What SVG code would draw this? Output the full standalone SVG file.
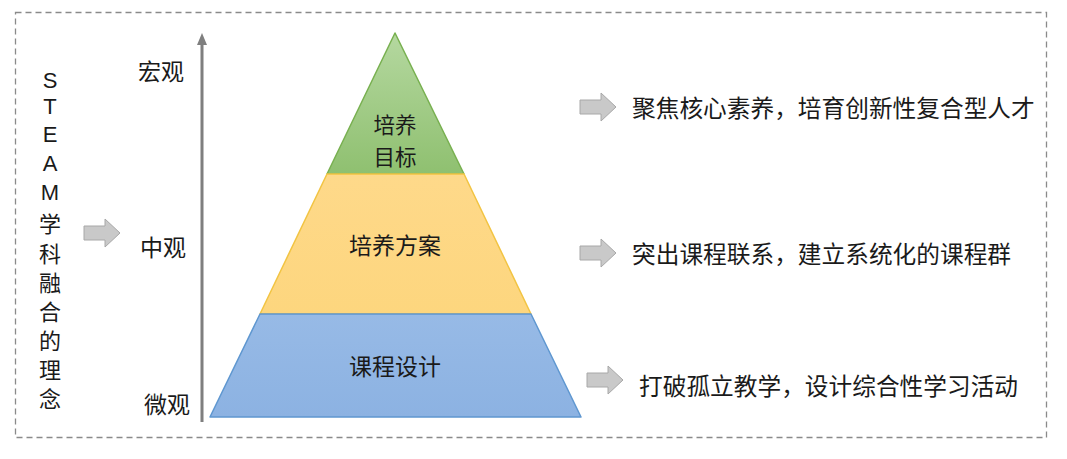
<svg xmlns="http://www.w3.org/2000/svg" width="1067" height="459" viewBox="0 0 1067 459">
<style>
.t{font-family:"Noto Sans CJK SC","Noto Sans",sans-serif;fill:#1a1a1a;font-size:23px;text-anchor:middle;dominant-baseline:central}
.p{font-family:"Noto Sans CJK SC","Noto Sans",sans-serif;fill:#1a1a1a;font-size:21.5px;text-anchor:middle;dominant-baseline:central}
.s{font-family:"Noto Sans CJK SC","Noto Sans",sans-serif;fill:#1a1a1a;font-size:22px;text-anchor:middle;dominant-baseline:central}
.r{font-family:"Noto Sans CJK SC","Noto Sans",sans-serif;fill:#1a1a1a;font-size:23.7px;dominant-baseline:central}
.v{font-family:"Liberation Sans","Noto Sans CJK SC",sans-serif;fill:#1a1a1a;font-size:22px;text-anchor:middle;dominant-baseline:central}
.arr{fill:#c9c9c9;stroke:#a8a8a8;stroke-width:1}
</style>
<defs>
<linearGradient id="gg" x1="0" y1="0" x2="0" y2="1"><stop offset="0" stop-color="#b5d8a0"/><stop offset="1" stop-color="#8fc070"/></linearGradient>
<linearGradient id="gy" x1="0" y1="0" x2="0" y2="1"><stop offset="0" stop-color="#fed98a"/><stop offset="1" stop-color="#fdd67e"/></linearGradient>
<linearGradient id="gb" x1="0" y1="0" x2="0" y2="1"><stop offset="0" stop-color="#97bae6"/><stop offset="1" stop-color="#8cb2e2"/></linearGradient>
<symbol id="blk" overflow="visible"><path class="arr" d="M0,-7 H21 V-14 L36,0 L21,14 V7 H0 Z"/></symbol>
</defs>
<rect x="15.5" y="12.5" width="1031" height="425" fill="none" stroke="#8a8a8a" stroke-width="1.3" stroke-dasharray="6,4"/>

<g id="axis">
<line x1="202" y1="42" x2="202" y2="422" stroke="#7f7f7f" stroke-width="3"/>
<path d="M197,45 L202,33 L207,45 Z" fill="#7f7f7f"/>
<text class="t" x="161" y="70">宏观</text>
<text class="t" x="163" y="246">中观</text>
<text class="t" x="167" y="403">微观</text>
</g>

<g id="concept">
<text class="v" x="50" y="80">S</text>
<text class="v" x="50" y="106">T</text>
<text class="v" x="50" y="134">E</text>
<text class="v" x="50" y="163">A</text>
<text class="v" x="50" y="192">M</text>
<text class="s" x="50" y="222">学</text>
<text class="s" x="50" y="252">科</text>
<text class="s" x="50" y="281">融</text>
<text class="s" x="50" y="310">合</text>
<text class="s" x="50" y="339">的</text>
<text class="s" x="50" y="368">理</text>
<text class="s" x="50" y="397">念</text>
</g>

<g id="connectors">
<use href="#blk" x="84" y="233"/>
<use href="#blk" x="580" y="107"/>
<use href="#blk" x="580" y="253"/>
<use href="#blk" x="587" y="380"/>
</g>

<g id="level-top">
<path d="M395,33 L464,174 L327,174 Z" fill="url(#gg)" stroke="#78b050" stroke-width="1.5" stroke-linejoin="round"/>
<text class="p" x="395" y="123">培养</text>
<text class="p" x="395" y="155">目标</text>
</g>
<g id="level-mid">
<path d="M327,174 L464,174 L531,314 L260,314 Z" fill="url(#gy)" stroke="#f2c443" stroke-width="1.5" stroke-linejoin="round"/>
<text class="t" x="395" y="244">培养方案</text>
</g>
<g id="level-bottom">
<path d="M260,314 L531,314 L581,417 L210,417 Z" fill="url(#gb)" stroke="#5f97d0" stroke-width="1.5" stroke-linejoin="round"/>
<text class="t" x="395" y="365">课程设计</text>
</g>

<g id="desc">
<text class="r" x="632" y="107">聚焦核心素养，培育创新性复合型人才</text>
<text class="r" x="632" y="253">突出课程联系，建立系统化的课程群</text>
<text class="r" x="639" y="385">打破孤立教学，设计综合性学习活动</text>
</g>
</svg>
